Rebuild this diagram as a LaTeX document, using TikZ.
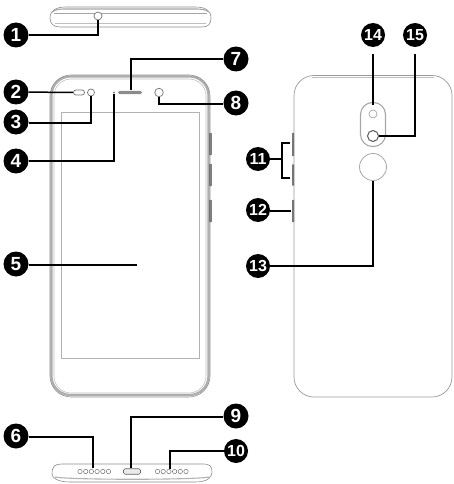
\documentclass[tikz,border=0pt]{standalone}
\usepackage{fontspec}
\setmainfont{Liberation Sans}
\tikzset{
 badge/.style={circle,fill=black,text=white,minimum size=25pt,inner sep=0pt,font=\bfseries\fontsize{19}{19}\selectfont},
 badgetwo/.style={badge,minimum size=24pt,font=\bfseries\fontsize{16}{16}\selectfont},
 leader/.style={draw=black,line width=1.5pt},
 frame/.style={draw=black!35,line width=1.1pt},
 frameb/.style={draw=black!45,line width=.6pt},
 part/.style={draw=black!55,line width=.7pt,fill=white},
 key/.style={draw=black!60,fill=black!50,line width=.4pt,rounded corners=.8pt},
}
\begin{document}
\begin{tikzpicture}[x=1pt,y=-1pt]
\useasboundingbox (0,0) rectangle (454,484);
% top view
\draw[frameb] (50,18) .. controls (50,10) and (57,7) .. (66,7) -- (195,7) .. controls (205,7) and (211,10) .. (211,18) .. controls (211,24) and (208,27) .. (202,27) -- (60,27) .. controls (54,27) and (50,24) .. (50,18) -- cycle;
\draw[frame] (52,12) .. controls (56,9) and (60,9) .. (68,9) -- (193,9) .. controls (200,9) and (205,9) .. (209,12);
\draw[frameb,draw=black!35] (54,13) -- (207,13);
\draw[frame,draw=black!25] (55,23.5) -- (206,23.5);
\node[circle,part,minimum size=8pt,inner sep=0pt] (jack) at (98,16) {};
% front phone
\draw[frame,line width=2.2pt,draw=black!32] (51.5,76.5) [rounded corners=19pt] -- (208.5,76.5) -- (208.5,395) -- (51.5,395) -- cycle;
\draw[frameb,rounded corners=21pt] (50,75) rectangle (210,397);
\draw[frameb,draw=black!25,rounded corners=17pt] (54,79) rectangle (206,393);
\node[draw=black!30,line width=.7pt,minimum width=138pt,minimum height=246pt,inner sep=0pt] (screen) at (130,235) {};
\node[part,rounded corners=2.5pt,minimum width=11pt,minimum height=5pt,inner sep=0pt] (sensor) at (79,92.5) {};
\node[circle,part,minimum size=7pt,inner sep=0pt] (prox) at (91,92.5) {};
\node[circle,fill=black!50,minimum size=2.2pt,inner sep=0pt] (led) at (114,92.5) {};
\node[fill=black!45,rounded corners=1.5pt,minimum width=24pt,minimum height=3.4pt,inner sep=0pt] (ear) at (130,92.5) {};
\node[circle,part,minimum size=8.5pt,inner sep=0pt] (front) at (159,92.5) {};
\node[key,minimum width=2.2pt,minimum height=22pt,inner sep=0pt] at (210.5,144) {};
\node[key,minimum width=2.2pt,minimum height=22pt,inner sep=0pt] at (210.5,175) {};
\node[key,minimum width=2.2pt,minimum height=22pt,inner sep=0pt] at (210.5,211) {};
% back phone
\draw[draw=black!40,line width=.7pt,rounded corners=20pt] (294,75.5) rectangle (452,397);
\draw[draw=black!25,line width=.5pt] (312,77) -- (434,77);
\node[key,minimum width=1.6pt,minimum height=23pt,inner sep=0pt] at (293,144.5) {};
\node[key,minimum width=1.6pt,minimum height=21pt,inner sep=0pt] at (293,175) {};
\node[key,minimum width=1.6pt,minimum height=22pt,inner sep=0pt] at (293,211) {};
\node[draw=black!35,line width=1.1pt,rounded corners=12pt,minimum width=25pt,minimum height=44pt,inner sep=0pt] (module) at (373,124.5) {};
\node[circle,draw=black!40,line width=.6pt,minimum size=8pt,inner sep=0pt] (flash) at (373,114) {};
\node[circle,draw=black!65,line width=1pt,minimum size=11pt,inner sep=0pt] (lens) at (373,136) {};
\node[circle,draw=black!35,line width=.8pt,minimum size=27pt,inner sep=0pt] (finger) at (373,167) {};
% bottom view
\draw[frameb] (52,474) .. controls (52,466) and (55,464) .. (62,464) -- (203,464) .. controls (210,464) and (212,466) .. (212,472) .. controls (212,477) and (208,482) .. (195,482) -- (70,482) .. controls (58,482) and (52,478) .. (52,474) -- cycle;
\draw[frame,draw=black!30] (55,477) .. controls (70,480) and (195,480) .. (209,477);
\foreach \i in {0,...,5}{
 \node[circle,draw=black!55,line width=.5pt,minimum size=4.4pt,inner sep=0pt] (sl\i) at ({80+\i*5.7},471.5) {};
 \node[circle,draw=black!55,line width=.5pt,minimum size=4.4pt,inner sep=0pt] (sr\i) at ({157.5+\i*5.7},471.5) {};
}
\node[draw=black!60,line width=.6pt,fill=black!8,rounded corners=1.5pt,minimum width=17pt,minimum height=5.5pt,inner sep=0pt] (usb) at (132,471.5) {};
% badges
\node[badge] (n1) at (16,35) {1};
\node[badge] (n2) at (16,92) {2};
\node[badge] (n3) at (16,122) {3};
\node[badge] (n4) at (16,161) {4};
\node[badge] (n5) at (16,264) {5};
\node[badge] (n6) at (16,436) {6};
\node[badge] (n7) at (236,59) {7};
\node[badge] (n8) at (236,103) {8};
\node[badge] (n9) at (236,416) {9};
\node[badgetwo] (n10) at (236,451) {10};
\node[badgetwo] (n11) at (258,159) {11};
\node[badgetwo] (n12) at (258,210) {12};
\node[badgetwo] (n13) at (258,266) {13};
\node[badgetwo] (n14) at (373,35) {14};
\node[badgetwo] (n15) at (415,35) {15};
% free ends of leaders
\coordinate (s1) at (98,20);
\coordinate (e5) at (137,265);
\coordinate (e11a) at (290,143);
\coordinate (e11b) at (290,178);
\coordinate (e11m) at (282,159);
\coordinate (e12) at (291,211);
\coordinate (e7) at (131,90);
\coordinate (e6) at (93,468);
\coordinate (e9) at (131,467.5);
\coordinate (e10) at (170,469);
\coordinate (e14) at (373,105);
% leaders
\draw[leader] (s1) |- (n1.east |- 0,35);
\draw[leader] (n2) -- (sensor);
\draw[leader] (n3.east |- 0,123) -| (prox);
\draw[leader] (n4.east |- 0,161) -| (led);
\draw[leader] (n5.east |- 0,265) -- (e5);
\draw[leader] (n6.east |- 0,437) -| (e6);
\draw[leader] (n7) -| (e7);
\draw[leader] (n8.west |- 0,104) -| (front);
\draw[leader] (n9.west |- 0,417) -| (e9);
\draw[leader] (n10) -| (e10);
\draw[leader] (n11) -- (e11m);
\draw[leader] (e11a) -| (e11m) |- (e11b);
\draw[leader] (n12.east |- 0,211) -- (e12);
\draw[leader] (n13.east |- 0,266) -| (finger.south);
\draw[leader] (n14.south |- 0,54) -- (e14);
\draw[leader] (n15.south |- 0,54) |- (lens);
\end{tikzpicture}
\end{document}
